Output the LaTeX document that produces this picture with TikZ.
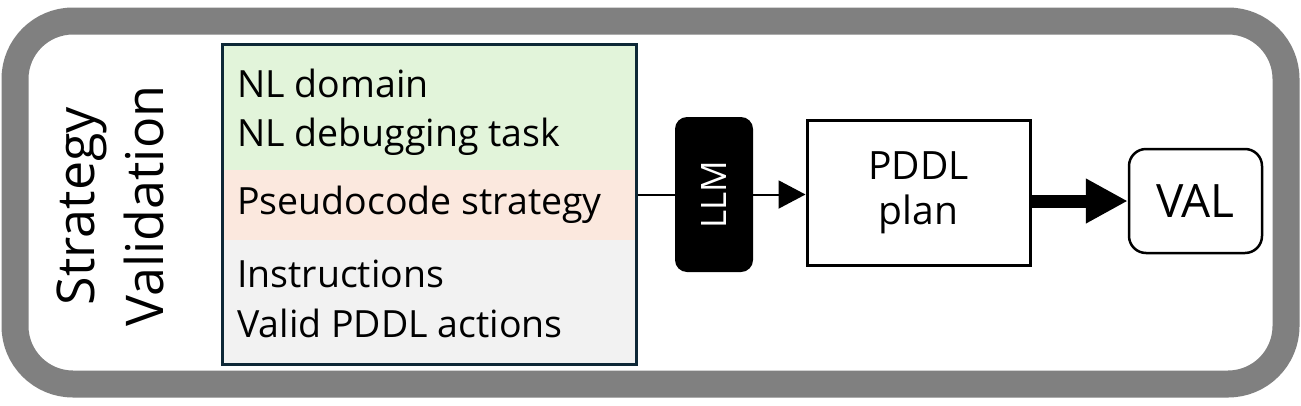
\documentclass[tikz,border=0pt]{standalone}
\usepackage{fontspec}
\usepackage{graphicx}
\setmainfont{Open Sans}
\usetikzlibrary{arrows.meta}
\definecolor{outergray}{RGB}{128,128,128}
\definecolor{boxnavy}{RGB}{14,40,55}
\definecolor{greenfill}{RGB}{226,244,218}
\definecolor{peachfill}{RGB}{251,232,222}
\definecolor{grayfill}{RGB}{242,242,242}
\tikzset{
  itemtext/.style={anchor=base west, inner sep=0pt, font=\fontsize{37.5}{43}\selectfont},
  plainbox/.style={draw=black, line width=3pt, minimum width=223pt, minimum height=145pt, align=center, font=\fontsize{39}{45}\selectfont},
  valbox/.style={draw=black, line width=2.5pt, rounded corners=17pt, minimum width=133pt, minimum height=104pt, font=\fontsize{46}{50}\selectfont},
  llmbox/.style={fill=black, text=white, rounded corners=12pt, minimum width=78pt, minimum height=155pt, font=\fontsize{35}{40}\selectfont},
}
\begin{document}
\begin{tikzpicture}[x=1pt,y=-1pt]
\useasboundingbox (0,0) rectangle (1301,405);
\draw[outergray, line width=27pt, rounded corners=58pt] (15,21) rectangle (1286,384);
% input box
\fill[greenfill] (221,43) rectangle (635,170);
\fill[peachfill] (221,170) rectangle (635,240);
\fill[grayfill] (221,240) rectangle (635,363);
\node[draw=boxnavy, line width=2.5pt, minimum width=414pt, minimum height=320pt, inner sep=0pt, anchor=north west] (inbox) at (221,43) {};
\node[itemtext] (t1) at (237,97) {NL domain};
\node[itemtext] (t2) at (237,146) {NL debugging task};
\node[itemtext] (t3) at (237,214) {Pseudocode strategy};
\node[itemtext] (t4) at (237,287) {Instructions};
\node[itemtext] (t5) at (237,337) {Valid PDDL actions};
% side label
\node[rotate=90, align=center, font=\fontsize{52}{69}\selectfont] (side) at (110,206) {Strategy\\Validation};
% LLM
\node[llmbox] (llm) at (714,194.5) {\rotatebox{90}{LLM}};
\node[plainbox] (plan) at (918.5,192.5) {PDDL\\plan};
\node[valbox] (val) at (1195.5,201) {VAL};
% connectors
\draw[line width=2pt] (inbox.east |- llm.west) -- (llm.west);
\draw[line width=2pt, -{Triangle[length=27pt,width=28pt]}] (llm.east) -- (plan.west |- llm.east);
\draw[line width=13pt, -{Triangle[length=42pt,width=42pt]}] (plan.east |- val.west) -- (val.west);
\end{tikzpicture}
\end{document}
